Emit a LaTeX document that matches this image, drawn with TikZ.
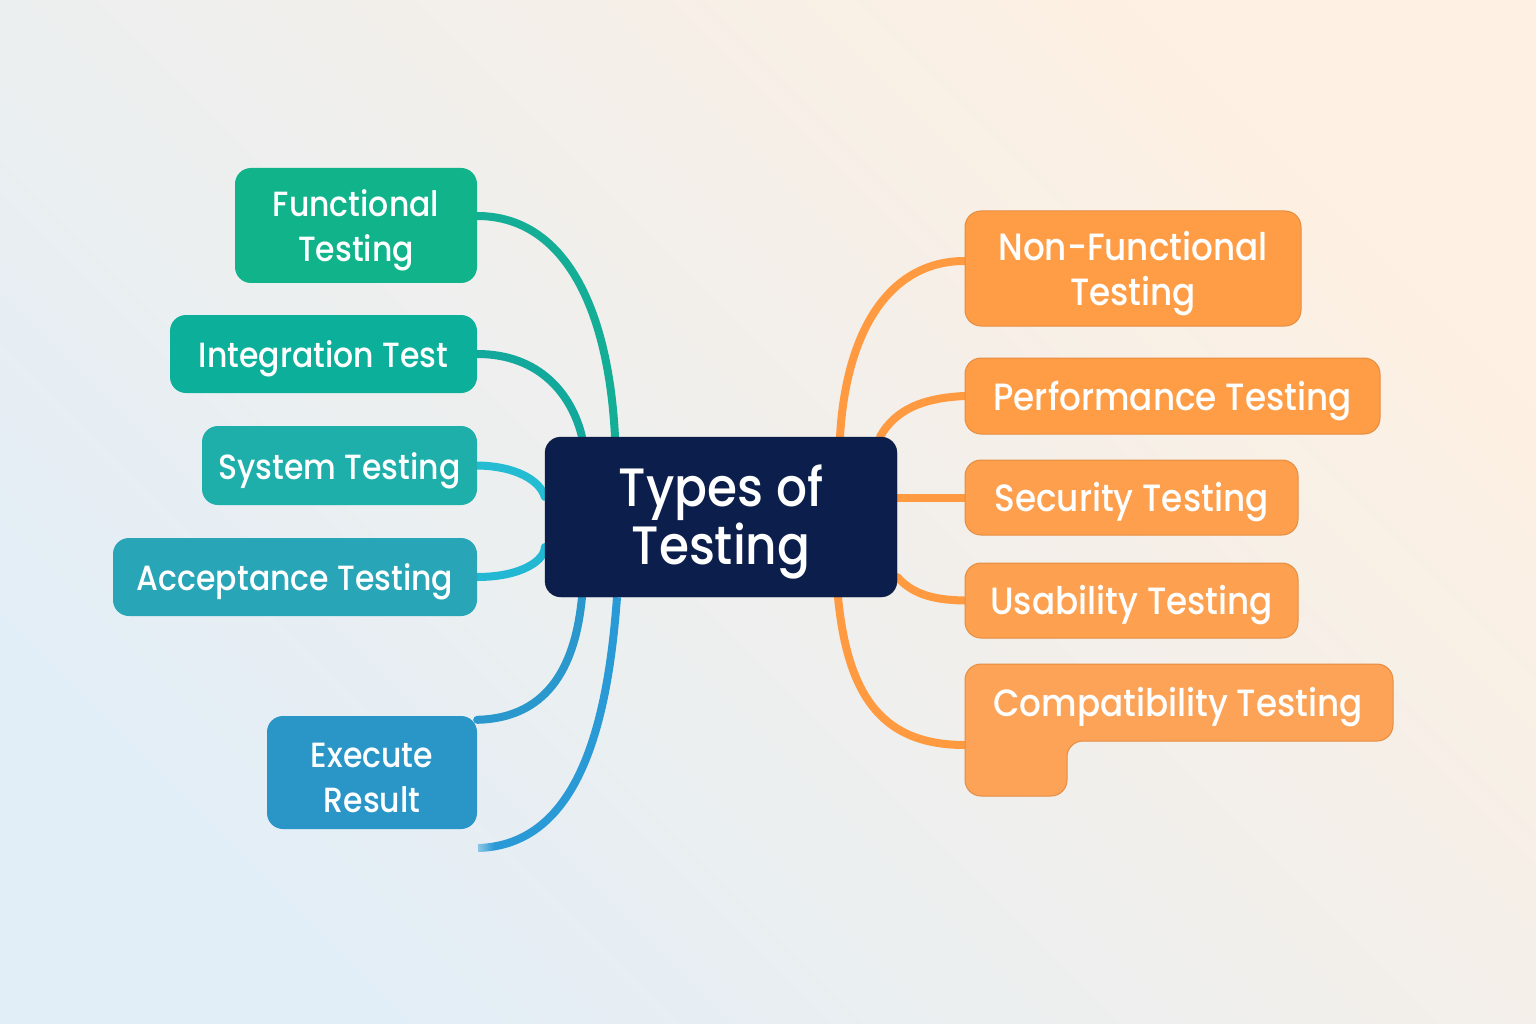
\documentclass[tikz,border=0pt]{standalone}
\usepackage{fontspec}
\setmainfont{Poppins}[UprightFont={* Medium}, FakeStretch=0.9]
\usetikzlibrary{calc,fadings}
\definecolor{navy}{HTML}{0C1F4C}
\definecolor{cfunc}{HTML}{10B38A}
\definecolor{cinteg}{HTML}{0CB09A}
\definecolor{csys}{HTML}{1EAFAA}
\definecolor{cacc}{HTML}{28A6B8}
\definecolor{cexec}{HTML}{2A96C8}
\definecolor{lfunc}{HTML}{14AE96}
\definecolor{linteg}{HTML}{12A99C}
\definecolor{lsys}{HTML}{24BCD2}
\definecolor{lacc}{HTML}{22B8D4}
\definecolor{lexec}{HTML}{2A98CC}
\definecolor{lloose}{HTML}{2A9AD6}
\definecolor{orb}{HTML}{FF9D47}
\definecolor{orbl}{HTML}{FCA357}
\definecolor{orline}{HTML}{FF9A40}
\definecolor{bgblue}{HTML}{E2EEF7}
\definecolor{bgmid}{HTML}{F3F2F0}
\definecolor{bgpeach}{HTML}{FEF0E2}
\newcommand{\lw}[1]{\raisebox{-5pt}[\height][\depth]{#1}}
\begin{tikzfadingfrompicture}[name=endfade]
  \fill[transparent!0] (-0.65,-1) rectangle (1,1);
  \shade[left color=transparent!100, right color=transparent!0] (-1,-1) rectangle (-0.64,1);
\end{tikzfadingfrompicture}
\pgfdeclarelayer{back}
\pgfdeclarelayer{bg}
\pgfsetlayers{back,bg,main}
\tikzset{
  box/.style={rectangle, rounded corners=16pt, text=white, align=center,
    inner sep=0pt, font=\fontsize{35}{45}\selectfont},
  obox/.style={box, fill=orb, draw=orb!90!black, line width=1pt, font=\fontsize{38}{45}\selectfont},
  conn/.style={line width=8pt, line cap=round},
}
\begin{document}
\begin{tikzpicture}[x=1pt,y=-1pt]
\begin{pgfonlayer}{back}
\shade[left color=bgblue, middle color=bgmid, right color=bgpeach, shading angle=135] (0,0) rectangle (1536,1024);
\end{pgfonlayer}
\useasboundingbox (0,0) rectangle (1536,1024);

% center
\node[box, fill=navy, draw=navy!80!black, minimum width=352pt, minimum height=160pt,
  font=\fontsize{54}{58}\selectfont] (ctr) at (721,517) {\lw{Types of}\\\lw{Testing}};

% left nodes
\node[box, fill=cfunc, minimum width=242pt, minimum height=115pt] (func) at (356,225.5) {\lw{Functional}\\\lw{Testing}};
\node[box, fill=cinteg, minimum width=307pt, minimum height=78pt] (integ) at (323.5,354) {\lw{Integration Test}};
\node[box, fill=csys, minimum width=275pt, minimum height=79pt] (sys) at (339.5,465.5) {\lw{System Testing}};
\node[box, fill=cacc, minimum width=364pt, minimum height=78pt] (acc) at (295,577) {\lw{Acceptance Testing}};
\node[box, fill=cexec, minimum width=210pt, minimum height=113pt] (exec) at (372,772.5) {\lw{Execute}\\\lw{Result}};

% right nodes
\node[obox, minimum width=336pt, minimum height=115pt] (nonf) at (1133,268.5) {\lw{Non-Functional}\\\lw{Testing}};
\node[obox, minimum width=415pt, minimum height=76pt] (perf) at (1172.5,396) {\lw{Performance Testing}};
\node[obox, fill=orb!60!orbl, minimum width=333pt, minimum height=75pt] (sec) at (1131.5,497.5) {\lw{Security Testing}};
\node[obox, fill=orb!40!orbl, minimum width=333pt, minimum height=75pt] (usab) at (1131.5,600.5) {\lw{Usability Testing}};
\fill[orbl, draw=orb!90!black, line width=1pt, rounded corners=16pt]
  (965,664) -- (1393,664) -- (1393,741) -- (1067,741) -- (1067,796) -- (965,796) -- cycle;
\node[box, font=\fontsize{38}{45}\selectfont, minimum width=428pt, minimum height=77pt] (compat) at (1178,702.5) {\lw{Compatibility Testing}};
\coordinate (compatin) at (965,745);
\coordinate (looseend) at (478,848);

\begin{pgfonlayer}{bg}
\draw[conn, lfunc] ([yshift=9.5pt]func.east) .. controls (560,216) and (608,300) .. ([xshift=-106pt]ctr.north);
\draw[conn, linteg] (integ.east) .. controls (540,354) and (572,395) .. ([xshift=-139pt]ctr.north);
\draw[conn, lsys] (sys.east) .. controls (515,466) and (540,480) .. ([yshift=20pt]ctr.west);
\draw[conn, lacc] (acc.east) .. controls (522,577) and (545,560) .. ([yshift=-30pt]ctr.west);
\draw[conn, lexec] ([yshift=-4pt]exec.north east) .. controls (552,718) and (576,660) .. ([xshift=-139pt]ctr.south);
\draw[conn, lloose, line cap=butt, path fading=endfade] ([xshift=-104pt]ctr.south) .. controls (608,720) and (580,845) .. (looseend);
\draw[conn, orline] ([yshift=7.5pt]nonf.west) .. controls (890,261) and (846,330) .. ([xshift=119pt]ctr.north);
\draw[conn, orline] (perf.west) .. controls (922,398) and (895,410) .. ([xshift=159pt]ctr.north);
\draw[conn, orline] (ctr.east |- sec.west) -- (sec.west);
\draw[conn, orline] ([yshift=-60pt]ctr.east) .. controls (915,597) and (940,600) .. (usab.west);
\draw[conn, orline] ([xshift=117pt]ctr.south) .. controls (848,700) and (885,745) .. (compatin);
\end{pgfonlayer}
\end{tikzpicture}
\end{document}
